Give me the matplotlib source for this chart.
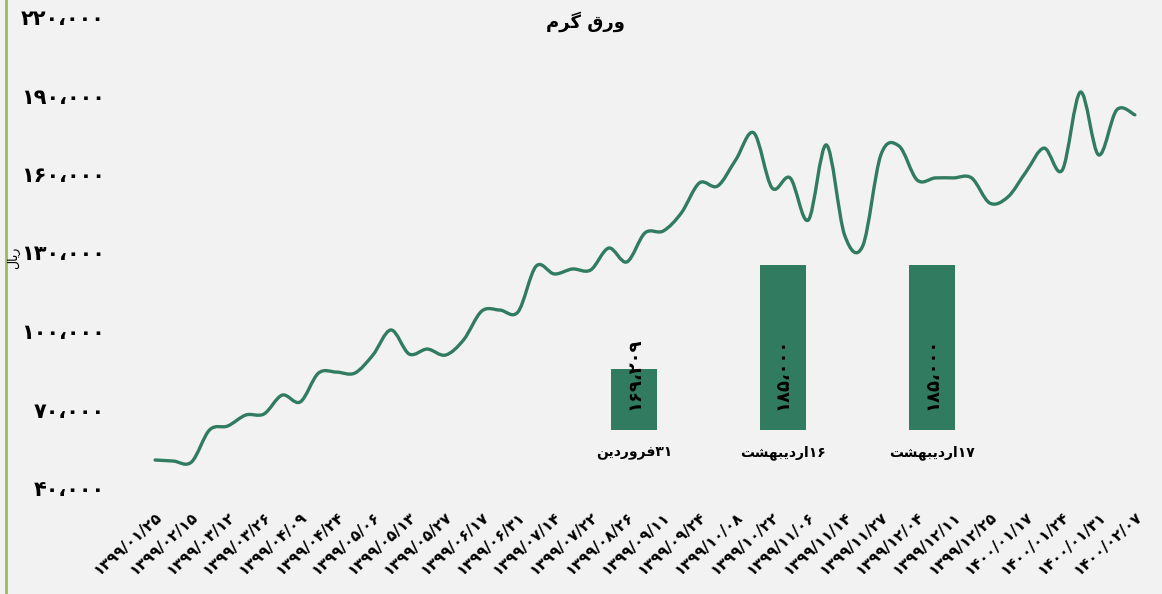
import matplotlib
matplotlib.use("Agg")
import matplotlib.pyplot as plt
from matplotlib.path import Path
from matplotlib.patches import PathPatch
from matplotlib.lines import Line2D
from matplotlib.ticker import FuncFormatter
from matplotlib.transforms import ScaledTranslation

plt.rcParams['font.family'] = ['DejaVu Sans']

# ---- data ----
title = "ورق گرم"
unit_label = "ریال"

date_labels = [
    "1399/01/25", "1399/02/15", "1399/03/12", "1399/03/26", "1399/04/09",
    "1399/04/24", "1399/05/06", "1399/05/13", "1399/05/27", "1399/06/17",
    "1399/06/31", "1399/07/14", "1399/07/22", "1399/08/26", "1399/09/11",
    "1399/09/24", "1399/10/08", "1399/10/22", "1399/11/06", "1399/11/14",
    "1399/11/27", "1399/12/04", "1399/12/11", "1399/12/25", "1400/01/17",
    "1400/01/24", "1400/01/31", "1400/02/07",
]

# price series (one point every half label step)
prices = [
    50700, 50300, 49900, 62200, 63700, 67900, 68300, 75500, 72900, 83900,
    84300, 83900, 90800, 100400, 91200, 93100, 90800, 96600, 107600, 108000,
    107300, 124800, 121800, 123700, 123300, 131700, 126400, 137500, 138200, 145100,
    156600, 155400, 165400, 175700, 154700, 158500, 142400, 171100, 136700, 132500,
    167300, 170700, 157700, 158500, 158500, 158500, 148900, 151200, 160800, 169900,
    161500, 191300, 167300, 184500, 182600,
]

y_ticks = [40000, 70000, 100000, 130000, 160000, 190000, 220000]

bar_labels = ["۳۱فروردین", "۱۶اردیبهشت", "۱۷اردیبهشت"]
bar_values = [169209, 185000, 185000]

GREEN = "#317C60"
BG = "#F2F2F2"

# ---- minimal Persian shaping (matplotlib has no RTL layout) ----
FORMS = {
    'ا': ('\uFE8D', '\uFE8E'),
    'د': ('\uFEA9', '\uFEAA'),
    'ر': ('\uFEAD', '\uFEAE'),
    'و': ('\uFEED', '\uFEEE'),
    'ب': ('\uFE8F', '\uFE90', '\uFE91', '\uFE92'),
    'ت': ('\uFE95', '\uFE96', '\uFE97', '\uFE98'),
    'ش': ('\uFEB5', '\uFEB6', '\uFEB7', '\uFEB8'),
    'ف': ('\uFED1', '\uFED2', '\uFED3', '\uFED4'),
    'ق': ('\uFED5', '\uFED6', '\uFED7', '\uFED8'),
    'ل': ('\uFEDD', '\uFEDE', '\uFEDF', '\uFEE0'),
    'م': ('\uFEE1', '\uFEE2', '\uFEE3', '\uFEE4'),
    'ن': ('\uFEE5', '\uFEE6', '\uFEE7', '\uFEE8'),
    'ه': ('\uFEE9', '\uFEEA', '\uFEEB', '\uFEEC'),
    'ی': ('\uFBFC', '\uFBFD', '\uFBFE', '\uFBFF'),
    'گ': ('\uFB92', '\uFB93', '\uFB94', '\uFB95'),
}
PERSIAN_DIGITS = "۰۱۲۳۴۵۶۷۸۹"


def shape_word(word):
    out = []
    i = 0
    while i < len(word):
        ch = word[i]
        prev = word[i - 1] if i > 0 else None
        joins_prev = prev in FORMS and len(FORMS[prev]) == 4
        if ch == 'ل' and i + 1 < len(word) and word[i + 1] == 'ا':
            out.append('\uFEFC' if joins_prev else '\uFEFB')
            i += 2
            continue
        if ch not in FORMS:
            out.append(ch)
            i += 1
            continue
        f = FORMS[ch]
        nxt = word[i + 1] if i + 1 < len(word) else None
        joins_next = len(f) == 4 and nxt in FORMS
        if joins_prev and joins_next:
            out.append(f[3])
        elif joins_prev:
            out.append(f[1])
        elif joins_next:
            out.append(f[2])
        else:
            out.append(f[0])
        i += 1
    return "".join(reversed(out))


def rtl(text):
    # split into digit runs (kept LTR) and letter runs (shaped, reversed)
    runs = []
    for ch in text:
        kind = ch in PERSIAN_DIGITS or ch in "0123456789/،,"
        if runs and runs[-1][0] == kind:
            runs[-1][1] += ch
        else:
            runs.append([kind, ch])
    parts = []
    for is_num, chunk in reversed(runs):
        if is_num:
            parts.append(chunk)
        else:
            parts.append(" ".join(shape_word(w) for w in reversed(chunk.split(" "))))
    return "".join(parts)


def fa_digits(s):
    return "".join(PERSIAN_DIGITS[int(c)] if c.isdigit() else c for c in s)


def fa_number(v):
    return fa_digits(f"{int(v):,}").replace(",", "،")


# ---- figure ----
fig = plt.figure(figsize=(11.62, 5.94), dpi=100, facecolor=BG)
W, H = 1162, 594

# main axes in pixel terms: x index -1 .. 55 spans 137..1153, y 40k..220k spans 488..17
ax = fig.add_axes([137 / W, (H - 488) / H, (1153 - 137) / W, (488 - 17) / H])
ax.set_facecolor("none")
ax.set_xlim(-1, 55)
ax.set_ylim(40000, 220000)

# smooth line (Catmull-Rom as cubic Bezier segments, like Excel's smoothed line)
pts = list(zip(range(len(prices)), prices))
verts = [pts[0]]
codes = [Path.MOVETO]
n = len(pts)
for i in range(n - 1):
    p0 = pts[i - 1] if i > 0 else pts[i]
    p1 = pts[i]
    p2 = pts[i + 1]
    p3 = pts[i + 2] if i + 2 < n else pts[i + 1]
    c1 = (p1[0] + (p2[0] - p0[0]) / 6, p1[1] + (p2[1] - p0[1]) / 6)
    c2 = (p2[0] - (p3[0] - p1[0]) / 6, p2[1] - (p3[1] - p1[1]) / 6)
    verts += [c1, c2, p2]
    codes += [Path.CURVE4] * 3
ax.add_patch(PathPatch(Path(verts, codes), facecolor="none", edgecolor=GREEN,
                       lw=2.4, capstyle="round", joinstyle="round"))

ax.set_yticks(y_ticks)
ax.yaxis.set_major_formatter(FuncFormatter(lambda v, p: fa_number(v)))
ax.set_xticks(range(0, len(prices), 2))
ax.set_xticklabels([fa_digits(d) for d in date_labels], rotation=42,
                   ha="right", va="top", rotation_mode="anchor",
                   fontsize=11, fontweight="bold")
shift = ScaledTranslation(-6 / 100, 0, fig.dpi_scale_trans)
for lab in ax.get_xticklabels():
    lab.set_transform(lab.get_transform() + shift)
for lab in ax.get_yticklabels():
    lab.set_fontsize(15)
    lab.set_fontweight("bold")
ax.tick_params(axis="y", length=0, pad=23)
ax.tick_params(axis="x", length=0, pad=15)
for s in ax.spines.values():
    s.set_visible(False)

fig.text(585 / W, 1 - 22 / H, rtl(title), ha="center", va="center",
         fontsize=13, fontweight="bold")
fig.text(14 / W, 1 - 258 / H, rtl(unit_label), ha="center", va="center",
         rotation=90, fontsize=9)

# inset bar chart
bx = fig.add_axes([(634 - 0.6 * 149) / W, (H - 430) / H, 3.2 * 149 / W, 165 / H])
bx.set_facecolor("none")
bx.set_xlim(-0.6, 2.6)
xs = range(len(bar_values))
bx.bar(xs, bar_values, width=0.31, color=GREEN)
bx.set_ylim(160000, 185000)
for x, v, lab in zip(xs, bar_values, bar_labels):
    bx.text(x, 0.12, fa_number(v), transform=bx.get_xaxis_transform(),
            rotation=90, ha="center", va="bottom", fontsize=13, fontweight="bold")
    bx.text(x, -0.135, rtl(lab), transform=bx.get_xaxis_transform(),
            ha="center", va="center", fontsize=10, fontweight="bold")
bx.axis("off")

# chart border on the left edge
fig.add_artist(Line2D([6 / W, 6 / W], [0, 1], color="#9BBB59", lw=2.0))

fig.savefig("out.png", dpi=100, facecolor=BG)
